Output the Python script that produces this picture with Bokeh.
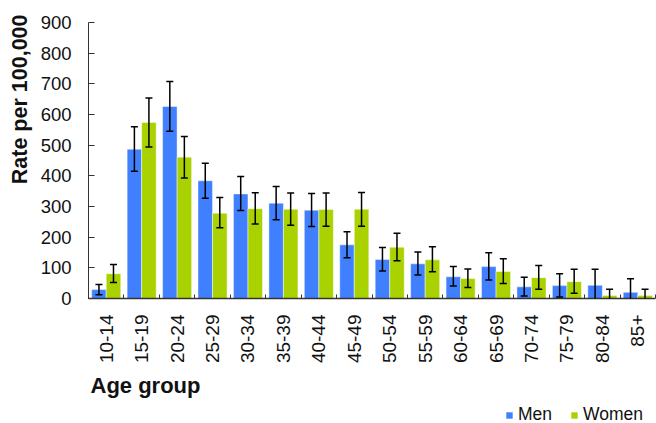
from bokeh.plotting import figure
from bokeh.models import (ColumnDataSource, Range1d, LinearAxis, FixedTicker,
                          SingleIntervalTicker, Whisker, TeeHead, Legend, LegendItem, Title)
from bokeh.layouts import column
from bokeh.embed import file_html
from bokeh.resources import INLINE
import numpy as np

age_groups = ["10-14", "15-19", "20-24", "25-29", "30-34", "35-39", "40-44", "45-49",
              "50-54", "55-59", "60-64", "65-69", "70-74", "75-79", "80-84", "85+"]
men = [29, 487, 626, 384, 341, 311, 288, 175, 127, 113, 71, 104, 38, 42, 43, 20]
men_hi = [46, 560, 708, 441, 398, 365, 342, 218, 166, 152, 104, 149, 69, 81, 95, 64]
men_lo = [12, 415, 545, 327, 287, 257, 235, 133, 90, 77, 41, 60, 8, 5, -9, -24]
women = [81, 574, 461, 278, 293, 291, 290, 291, 167, 126, 65, 88, 68, 55, 10, 10]
women_hi = [111, 654, 528, 329, 345, 344, 344, 346, 213, 169, 96, 130, 108, 95, 30, 30]
women_lo = [52, 494, 393, 231, 243, 239, 236, 236, 123, 87, 36, 49, 30, 17, -10, -10]
series = ["Men", "Women"]

BLUE = "#4080FF"
GREEN = "#AAD200"
FONT = "Liberation Sans"
INK = "#111111"

n = len(age_groups)
centers = np.arange(n) + 0.5
bw = 0.41
src = ColumnDataSource(dict(
    xm=centers - bw / 2, xw=centers + bw / 2,
    men=men, men_hi=men_hi, men_lo=men_lo,
    women=women, women_hi=women_hi, women_lo=women_lo,
))

p = figure(width=656, height=401, x_range=Range1d(0, n), y_range=Range1d(0, 900),
           output_backend="svg", toolbar_location=None, x_axis_type=None,
           min_border_left=88, min_border_right=1, min_border_top=22, min_border_bottom=101,
           background_fill_color="white", border_fill_color="white")
p.outline_line_color = None
p.xgrid.visible = False
p.ygrid.visible = False

bar_kw = dict(width=bw, bottom=0, source=src, line_color="white", line_alpha=0.45, line_width=1)
r_men = p.vbar(x="xm", top="men", fill_color=BLUE, **bar_kw)
r_women = p.vbar(x="xw", top="women", fill_color=GREEN, **bar_kw)

for xcol, lo, hi in (("xm", "men_lo", "men_hi"), ("xw", "women_lo", "women_hi")):
    w = Whisker(source=src, base=xcol, lower=lo, upper=hi, dimension="height",
                line_color="black", line_width=1.5, level="annotation",
                upper_head=TeeHead(size=7, line_color="black", line_width=1.5),
                lower_head=TeeHead(size=7, line_color="black", line_width=1.5))
    p.add_layout(w)

# y axis
ya = p.yaxis[0]
ya.ticker = SingleIntervalTicker(interval=100)
ya.minor_tick_line_color = None
ya.major_tick_in = 6
ya.major_tick_out = 0
ya.major_label_standoff = 13
ya.axis_line_color = "#333333"
ya.major_tick_line_color = "#333333"
ya.major_label_text_font = FONT
ya.major_label_text_font_size = "18.5px"
ya.major_label_text_color = INK

# x axis: labels at group centres, small ticks at group boundaries
xa = LinearAxis(ticker=FixedTicker(ticks=list(centers), minor_ticks=list(np.arange(n + 1))),
                major_label_overrides={float(c): g for c, g in zip(centers, age_groups)})
xa.major_label_orientation = np.pi / 2
xa.major_tick_line_color = None
xa.major_tick_out = 0
xa.major_tick_in = 0
xa.minor_tick_out = 0
xa.minor_tick_in = 4
xa.minor_tick_line_color = "#333333"
xa.axis_line_color = "#333333"
xa.axis_line_width = 1.5
xa.major_label_standoff = 16
xa.major_label_text_font = FONT
xa.major_label_text_font_size = "19px"
xa.major_label_text_color = INK
p.add_layout(xa, "below")

p.add_layout(Title(text="Age group", align="left", text_font=FONT, text_font_size="22px",
                   text_font_style="bold", text_color=INK, offset=2, standoff=8), "below")

p.add_layout(Title(text="Rate per 100,000", align="right", text_font=FONT, text_font_size="21.5px",
                   text_font_style="bold", text_color=INK, standoff=8, offset=-8,
                   vertical_align="top"), "left")

# legend strip below the chart: proxy renderers of the same data, with ranges that keep them out of view
lf = figure(width=656, height=22, x_range=Range1d(100, 101), y_range=Range1d(5000, 5001),
            output_backend="svg", toolbar_location=None, x_axis_type=None, y_axis_type=None,
            min_border=0, background_fill_color="white", border_fill_color="white")
lf.outline_line_color = None
lf.xgrid.visible = False
lf.ygrid.visible = False
lm = lf.vbar(x="xm", top="men", bottom=0, width=bw, source=src, fill_color=BLUE, line_color=None)
lw = lf.vbar(x="xw", top="women", bottom=0, width=bw, source=src, fill_color=GREEN, line_color=None)
legend = Legend(items=[LegendItem(label=series[0], renderers=[lm]),
                       LegendItem(label=series[1], renderers=[lw])],
                orientation="horizontal", location=(417, -2),
                glyph_width=8, glyph_height=8, label_standoff=5, spacing=18,
                padding=0, margin=0, border_line_color=None, background_fill_alpha=0,
                label_text_font=FONT, label_text_font_size="17.5px", label_text_color=INK)
lf.add_layout(legend, "center")

layout = column(p, lf, spacing=0)
open("out.html", "w").write(file_html(layout, INLINE))
